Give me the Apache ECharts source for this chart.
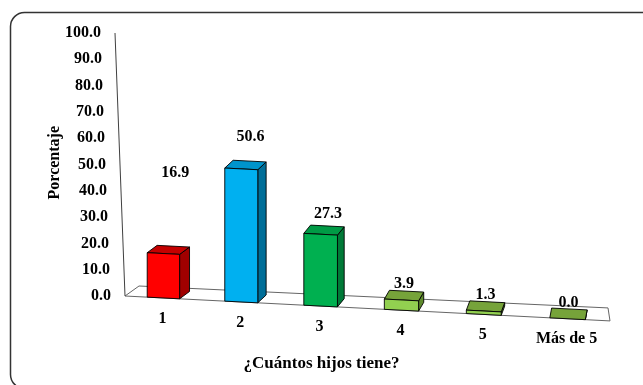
<!DOCTYPE html>
<html>
<head>
<meta charset="utf-8">
<script src="https://cdn.jsdelivr.net/npm/echarts@6/dist/echarts.min.js"></script>
<style>
  html, body { margin: 0; padding: 0; background: #fff; }
  #chart { width: 643px; height: 385px; }
</style>
</head>
<body>
<div id="chart"></div>
<script>
// data
const categories = ['1', '2', '3', '4', '5', 'Más de 5'];
const values = [16.9, 50.6, 27.3, 3.9, 1.3, 0.0];
const yTicks = [0, 10, 20, 30, 40, 50, 60, 70, 80, 90, 100];

// styles
const FONT = '"Liberation Serif", "Times New Roman", serif';
const faceColors = [
  { front: '#ff0000', top: '#c40000', side: '#a00000' },
  { front: '#00b0f0', top: '#0094cc', side: '#006e98' },
  { front: '#00b050', top: '#009a45', side: '#007a38' },
  { front: '#92d050', top: '#76a33a', side: '#5e8a2c' },
  { front: '#92d050', top: '#76a33a', side: '#5e8a2c' },
  { front: '#92d050', top: '#76a33a', side: '#5e8a2c' }
];
// extra label nudge in px: [right, up]
const labelNudge = [[7, 65], [5, 16], [4, 4], [0, 0], [0, 0], [0, 0]];

const SLOPE = 0.0514;   // floor drops to the right
const WARP = 0.055;     // perspective spacing
const LEAN = 10 / 263;  // value axis leans left going up
const BAR_W = 0.42;

const chart = echarts.init(document.getElementById('chart'));

// helpers that turn data coordinates into the slanted view
function makeView(api) {
  const o = api.coord([-0.5, 0]);
  const W = api.coord([5.5, 0])[0] - o[0];
  const proj = (xv, yv) => {
    const c = api.coord([xv, yv]);
    const u = (c[0] - o[0]) / W;
    const x = o[0] + W * (u + WARP * u * (u - 1));
    return [x, c[1] + SLOPE * (x - o[0])];
  };
  const barDepth = (x) => [11 - 0.02 * (x - o[0]), -7 - 0.006 * (x - o[0])];
  const floorDepth = (x) => {
    const t = (x - o[0]) / W;
    return [14 - 16 * t, -10 - 3 * t];
  };
  return { o, W, proj, barDepth, floorDepth };
}

const add = (p, d) => [p[0] + d[0], p[1] + d[1]];

function renderFrame(params, api) {
  const v = makeView(api);
  const fl = v.proj(-0.5, 0);
  const fr = v.proj(5.5, 0);
  const bl = add(fl, v.floorDepth(fl[0]));
  const br = add(fr, v.floorDepth(fr[0]));
  const children = [{
    type: 'polygon',
    shape: { points: [fl, fr, br, bl] },
    style: { fill: '#fff', stroke: '#666', lineWidth: 1 }
  }];
  const top = api.coord([-0.5, 100]);
  children.push({
    type: 'line',
    shape: { x1: fl[0], y1: fl[1], x2: fl[0] - (fl[1] - top[1]) * LEAN, y2: top[1] },
    style: { stroke: '#404040', lineWidth: 1 }
  });
  yTicks.forEach((t) => {
    const c = api.coord([-0.5, t]);
    const x = v.o[0] - (v.o[1] - c[1]) * LEAN;
    children.push({
      type: 'text',
      style: {
        x: x - 14, y: c[1], text: t.toFixed(1),
        fill: '#000', fontSize: 16, fontWeight: 'bold', fontFamily: FONT,
        align: 'right', verticalAlign: 'middle'
      }
    });
  });
  categories.forEach((name, i) => {
    const p = v.proj(i, 0);
    children.push({
      type: 'text',
      style: {
        x: p[0] - 1, y: p[1] + 20.5, text: name,
        fill: '#000', fontSize: 16, fontWeight: 'bold', fontFamily: FONT,
        align: 'center', verticalAlign: 'middle'
      }
    });
  });
  return { type: 'group', children };
}

function renderBar(params, api) {
  const i = api.value(0);
  const val = api.value(1);
  const v = makeView(api);
  const lb = v.proj(i - BAR_W / 2, 0);
  const rb = v.proj(i + BAR_W / 2, 0);
  const rt = v.proj(i + BAR_W / 2, val);
  const lt = v.proj(i - BAR_W / 2, val);
  const d = v.barDepth(rb[0]);
  const col = faceColors[i];
  const line = { stroke: '#000', lineWidth: 0.9 };
  const children = [
    { type: 'polygon', shape: { points: [rb, rt, add(rt, d), add(rb, d)] }, style: Object.assign({ fill: col.side }, line) },
    { type: 'polygon', shape: { points: [lt, rt, add(rt, d), add(lt, d)] }, style: Object.assign({ fill: col.top }, line) }
  ];
  if (val > 0) {
    children.push({ type: 'polygon', shape: { points: [lb, rb, rt, lt] }, style: Object.assign({ fill: col.front }, line) });
  }
  const cx = (lt[0] + rt[0]) / 2 + d[0] / 2 + labelNudge[i][0];
  const cy = (lt[1] + rt[1]) / 2 - 16 - labelNudge[i][1];
  children.push({
    type: 'text',
    style: {
      x: cx, y: cy, text: val.toFixed(1),
      fill: '#000', fontSize: 16, fontWeight: 'bold', fontFamily: FONT,
      align: 'center', verticalAlign: 'middle'
    }
  });
  return { type: 'group', children };
}

const option = {
  animation: false,
  backgroundColor: '#fff',
  grid: { left: 125, right: 33, top: 33, bottom: 89 },
  xAxis: { type: 'value', min: -0.5, max: 5.5, show: false },
  yAxis: { type: 'value', min: 0, max: 100, interval: 10, show: false },
  graphic: [
    {
      type: 'rect', left: 8, top: 10, silent: true,
      shape: { width: 700, height: 376, r: 14 },
      style: { fill: 'none', stroke: '#333', lineWidth: 1.5 }
    },
    {
      type: 'text', left: 'center', top: 355, silent: true,
      style: { text: '¿Cuántos hijos tiene?', fill: '#000', fontSize: 17, fontWeight: 'bold', fontFamily: FONT }
    },
    {
      type: 'text', left: 47, top: 126, rotation: Math.PI / 2, silent: true,
      style: { text: 'Porcentaje', fill: '#000', fontSize: 16, fontWeight: 'bold', fontFamily: FONT }
    }
  ],
  series: [
    {
      type: 'custom',
      clip: false,
      silent: true,
      renderItem: renderFrame,
      data: [[0, 0]],
      z: 1
    },
    {
      type: 'custom',
      clip: false,
      silent: true,
      renderItem: renderBar,
      encode: { x: 0, y: 1 },
      data: values.map((v, i) => [i, v]),
      z: 2
    }
  ]
};

chart.setOption(option);
window.addEventListener('resize', () => chart.resize());
</script>
</body>
</html>
